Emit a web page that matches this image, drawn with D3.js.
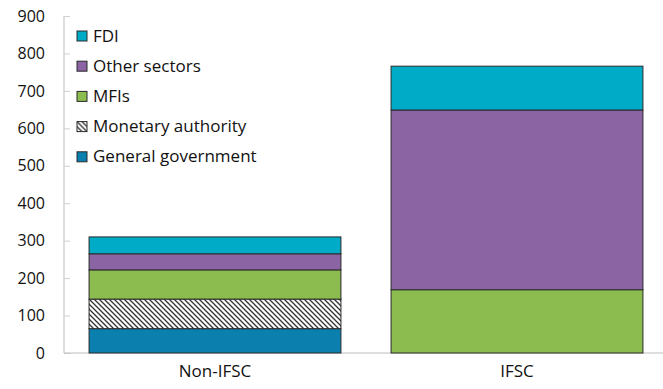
<!DOCTYPE html>
<html>
<head>
<meta charset="utf-8">
<script src="https://cdn.jsdelivr.net/npm/d3@7"></script>
<style>
  body { margin: 0; background: #fff; }
  svg { display: block; font-family: "Open Sans", "Noto Sans", sans-serif; }
</style>
</head>
<body>
<svg id="chart" width="663" height="389"></svg>
<script>
// Stacked liabilities by sector
const categories = ["Non-IFSC", "IFSC"];
const seriesNames = ["General government", "Monetary authority", "MFIs", "Other sectors", "FDI"];
const generalGovernment = [65, 0];
const monetaryAuthority = [79, 0];
const mfis = [78, 169];
const otherSectors = [43, 480];
const fdi = [45, 117];
const yTicks = [0, 100, 200, 300, 400, 500, 600, 700, 800, 900];

const colors = {
  "General government": "#0b7fae",
  "Monetary authority": "url(#hatch)",
  "MFIs": "#8cbb4f",
  "Other sectors": "#8a64a3",
  "FDI": "#00abc7"
};

const table = categories.map((c, i) => ({
  category: c,
  "General government": generalGovernment[i],
  "Monetary authority": monetaryAuthority[i],
  "MFIs": mfis[i],
  "Other sectors": otherSectors[i],
  "FDI": fdi[i]
}));

const svg = d3.select("#chart");
const margin = { left: 64, right: -5, top: 16, bottom: 36 };
const W = 663, H = 389;

// Diagonal hatch for the monetary authority layer
const defs = svg.append("defs");
const pat = defs.append("pattern")
  .attr("id", "hatch")
  .attr("patternUnits", "userSpaceOnUse")
  .attr("width", 5).attr("height", 5);
pat.append("rect").attr("width", 5).attr("height", 5).attr("fill", "#fff");
pat.append("path")
  .attr("d", "M-1,-1 L6,6 M-1,4 L1,6 M4,-1 L6,1")
  .attr("stroke", "#333").attr("stroke-width", 1.3);

const x = d3.scaleBand()
  .domain(categories)
  .range([margin.left, W - margin.right])
  .paddingInner(0.166)
  .paddingOuter(0.083);

const y = d3.scaleLinear()
  .domain([0, 900])
  .range([H - margin.bottom, margin.top]);

const stack = d3.stack().keys(seriesNames);
const layers = stack(table);

// Axes
const yAxis = svg.append("g")
  .attr("transform", `translate(${margin.left},0)`)
  .call(d3.axisLeft(y).tickValues(yTicks).tickSize(-6).tickPadding(19).tickFormat(d3.format("d")));
yAxis.select(".domain").attr("stroke", "#bdbdbd").attr("d", `M0,${y(900)}V${y(0)}`);
yAxis.selectAll(".tick line").attr("stroke", "#d0d0d0");
yAxis.selectAll(".tick text").attr("font-size", 16).attr("fill", "#111")
  .attr("font-family", "'Open Sans', sans-serif");

const xAxis = svg.append("g")
  .attr("transform", `translate(0,${y(0)})`)
  .call(d3.axisBottom(x).tickSize(0).tickPadding(12));
xAxis.select(".domain").attr("stroke", "#bdbdbd").attr("d", `M${margin.left},0H${W}`);
xAxis.selectAll(".tick text").attr("font-size", 17).attr("fill", "#111")
  .attr("font-family", "'Open Sans', sans-serif");

// Bars
svg.append("g").selectAll("g")
  .data(layers)
  .join("g")
  .attr("fill", d => colors[d.key])
  .selectAll("rect")
  .data(d => d.filter(p => p[1] - p[0] > 0))
  .join("rect")
  .attr("x", d => x(d.data.category))
  .attr("width", x.bandwidth())
  .attr("y", d => y(d[1]))
  .attr("height", d => y(d[0]) - y(d[1]))
  .attr("stroke", "#2a2a2a")
  .attr("stroke-width", 1);

// Legend (top to bottom: reverse stack order)
const legendItems = seriesNames.slice().reverse();
const legend = svg.append("g").attr("transform", "translate(77,31)");
const row = legend.selectAll("g")
  .data(legendItems)
  .join("g")
  .attr("transform", (d, i) => `translate(0,${i * 30.2})`);
row.append("rect")
  .attr("width", 10).attr("height", 10)
  .attr("fill", d => colors[d])
  .attr("stroke", "#2a2a2a").attr("stroke-width", 1);
row.append("text")
  .attr("x", 16).attr("y", 10.5)
  .attr("font-size", 17).attr("fill", "#111")
  .text(d => d);
</script>
</body>
</html>
